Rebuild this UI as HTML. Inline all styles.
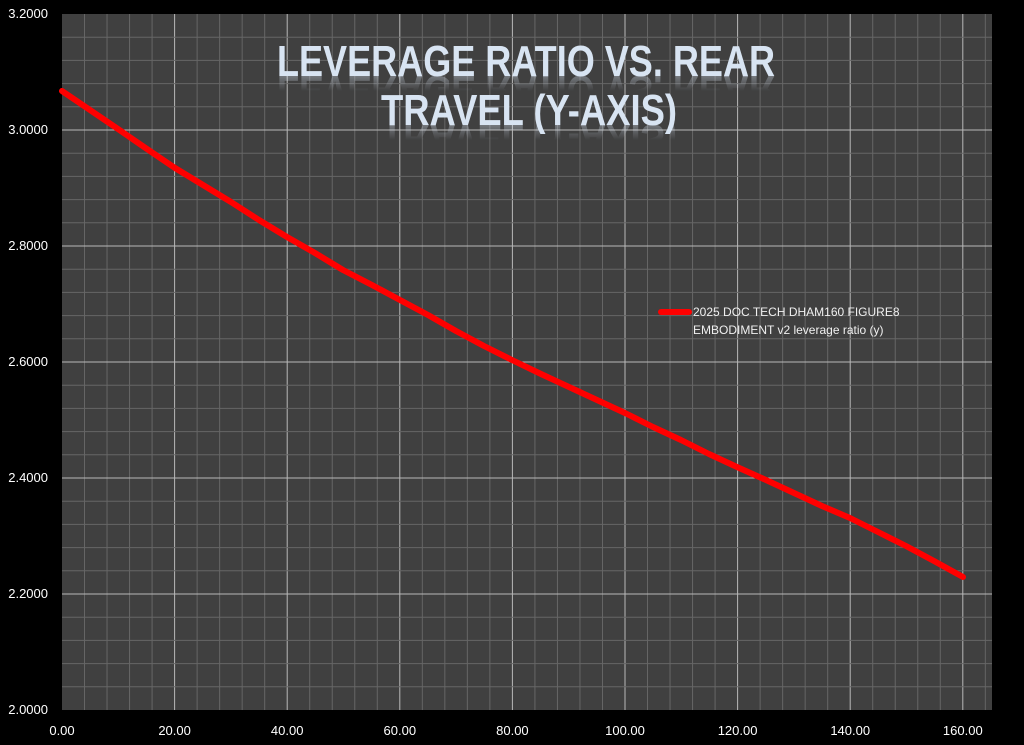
<!DOCTYPE html>
<html><head><meta charset="utf-8"><style>
html,body{margin:0;padding:0;background:#000;}
svg{display:block;}
</style></head><body>
<svg width="1024" height="745" viewBox="0 0 1024 745" xmlns="http://www.w3.org/2000/svg" font-family="Liberation Sans, sans-serif">
<defs>
<linearGradient id="fd1" x1="0" y1="0" x2="0" y2="1"><stop offset="0" stop-color="#fff" stop-opacity="0.35"/><stop offset="0.5" stop-color="#fff" stop-opacity="0"/></linearGradient>
<mask id="m1"><rect x="0" y="76" width="1024" height="30" fill="url(#fd1)"/></mask>
<mask id="m2"><rect x="0" y="125" width="1024" height="30" fill="url(#fd1)"/></mask>
</defs>
<rect width="1024" height="745" fill="#000"/>
<rect x="62" y="14" width="930" height="696" fill="#404040"/>
<g id="grid"></g>
<polyline fill="none" stroke="#ff0000" stroke-width="6" stroke-linecap="round" stroke-linejoin="round"
points="62,91 90,110 118,129 147,149 175,168 203,185 231,202 259,220 287,237 315,253 343,270 372,285 400,300 428,315 456,331 484,346 512,360 541,374 569,387 597,400 625,413 653,427 681,440 709,454 737,467 766,480 794,493 822,506 850,518 878,532 906,546 934,561 963,577"/>
<line x1="661" y1="312" x2="689" y2="312" stroke="#ff0000" stroke-width="6" stroke-linecap="round"/>
<text x="693" y="316" fill="#f0f0f0" font-size="12">2025 DOC TECH DHAM160 FIGURE8</text>
<text x="693" y="334" fill="#f0f0f0" font-size="12">EMBODIMENT v2 leverage ratio (y)</text>
<g font-weight="bold" font-size="44" fill="#d8e4f2">
<text x="277" y="76" textLength="498" lengthAdjust="spacingAndGlyphs">LEVERAGE RATIO VS. REAR</text>
<text x="381" y="125" textLength="296" lengthAdjust="spacingAndGlyphs">TRAVEL (Y-AXIS)</text>
</g>
<g mask="url(#m1)"><g font-weight="bold" font-size="44" fill="#d8e4f2" transform="translate(0,152) scale(1,-1)">
<text x="277" y="76" textLength="498" lengthAdjust="spacingAndGlyphs">LEVERAGE RATIO VS. REAR</text>
</g></g>
<g mask="url(#m2)"><g font-weight="bold" font-size="44" fill="#d8e4f2" transform="translate(0,250) scale(1,-1)">
<text x="381" y="125" textLength="296" lengthAdjust="spacingAndGlyphs">TRAVEL (Y-AXIS)</text>
</g></g>
<g id="labels" fill="#ffffff" font-size="13"></g>
<script>
var ns="http://www.w3.org/2000/svg",g=document.getElementById('grid'),L=document.getElementById('labels');
function ln(x1,y1,x2,y2,c,w){var l=document.createElementNS(ns,'line');l.setAttribute('x1',x1);l.setAttribute('y1',y1);l.setAttribute('x2',x2);l.setAttribute('y2',y2);l.setAttribute('stroke',c);l.setAttribute('stroke-width',w);g.appendChild(l);}
function tx(x,y,s,a){var t=document.createElementNS(ns,'text');t.setAttribute('x',x);t.setAttribute('y',y);t.setAttribute('text-anchor',a);t.textContent=s;L.appendChild(t);}
var px=112.6/5;
for(var i=1;i*px<930;i++){var x=62+i*px;ln(x,14,x,710,i%5==0?'#b8b8b8':'#666666',1);}
var py=116/5;
for(var j=1;j<30;j++){var y=710-j*py;ln(62,y,992,y,j%5==0?'#b8b8b8':'#666666',1);}
for(var k=0;k<=8;k++)tx(62+k*112.6,735,(k*20).toFixed(2),'middle');
for(var m=0;m<=6;m++)tx(48,714-m*116,(2+m*0.2).toFixed(4),'end');
</script>
</svg>
</body></html>
